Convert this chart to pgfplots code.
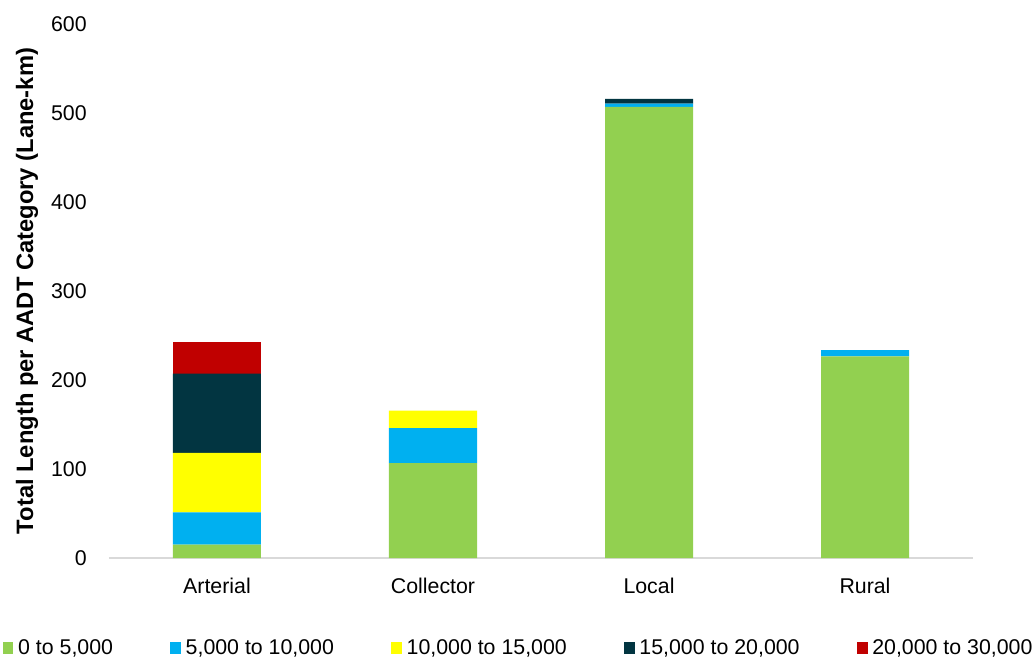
\documentclass[border=0pt]{standalone}
\usepackage{fontspec}
\setmainfont{Liberation Sans}
\usepackage{pgfplots}
\pgfplotsset{compat=1.18}
\definecolor{cA}{HTML}{92D050}
\definecolor{cB}{HTML}{00B0F0}
\definecolor{cC}{HTML}{FFFF00}
\definecolor{cD}{HTML}{023541}
\definecolor{cE}{HTML}{C00000}
\definecolor{axgray}{HTML}{D9D9D9}
\begin{document}
\begin{tikzpicture}
\begin{axis}[
  scale only axis,
  width=648pt, height=400.5pt,
  ybar stacked, bar width=66pt,
  xmin=-0.5, xmax=3.5, ymin=0, ymax=600,
  xtick=data, xticklabels={Arterial,Collector,Local,Rural},
  ytick={0,100,...,600},
  axis lines*=left,
  x axis line style={draw=axgray, line width=1pt, -},
  y axis line style={draw=none},
  xtick style={draw=none}, ytick style={draw=none},
  tick label style={font=\fontsize{16}{19}\selectfont},
  /pgf/number format/assume math mode=true,
  yticklabel style={anchor=east, inner sep=0pt, xshift=-16.5pt},
  xticklabel style={anchor=north, inner sep=0pt, yshift=-14.5pt},
  ylabel={\textbf{Total Length per AADT Category (Lane-km)}},
  every axis y label/.style={at={(rel axis cs:0,0.5)}, xshift=-61.5pt, rotate=90, anchor=center, font=\fontsize{17.8}{20}\selectfont},
  legend columns=5,
  legend style={at={(rel axis cs:0.4745,-0.1685)}, anchor=center, draw=none, fill=none,
    font=\fontsize{16}{19}\selectfont, inner sep=0pt,
    /tikz/every odd column/.append style={column sep=1.5pt},
    /tikz/every even column/.append style={column sep=41pt}},
  legend image code/.code={\fill[#1] (0pt,-4.5pt) rectangle (8pt,4.5pt);},
  legend cell align=left,
]
\addplot[fill=cA, draw=none] coordinates {(0,15) (1,106.5) (2,507) (3,226.5)};
\addplot[fill=cB, draw=none] coordinates {(0,36.3) (1,39.3) (2,3.5) (3,7)};
\addplot[fill=cC, draw=none] coordinates {(0,66.7) (1,19.9) (2,0) (3,0)};
\addplot[fill=cD, draw=none] coordinates {(0,89.2) (1,0) (2,5.5) (3,0)};
\addplot[fill=cE, draw=none] coordinates {(0,35.5) (1,0) (2,0) (3,0)};
\legend{0 to 5{,}000, 5{,}000 to 10{,}000, 10{,}000 to 15{,}000, 15{,}000 to 20{,}000, 20{,}000 to 30{,}000}
\coordinate (bl) at (rel axis cs:0,0);
\end{axis}
\pgfresetboundingbox
\path (bl) ++(-81.75pt,-75pt) rectangle ++(774.75pt,493.5pt);
\end{tikzpicture}
\end{document}
